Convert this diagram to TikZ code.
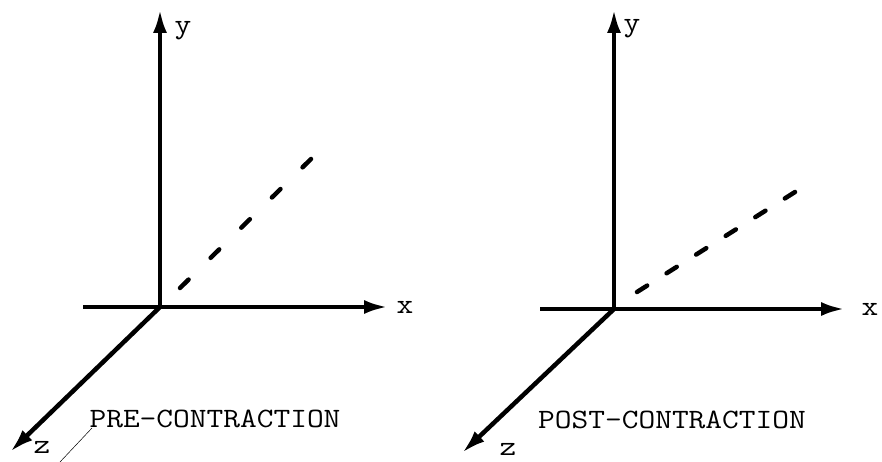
\documentclass[tikz,border=0pt]{standalone}
\usepackage{fontspec}
\usetikzlibrary{arrows.meta}
\newcommand{\wide}[1]{\scalebox{1.16}[1]{#1}}
\begin{document}
\begin{tikzpicture}[x=1pt,y=-1pt,
  axis/.style={line width=4.5pt,-{Latex[length=24pt,width=14pt]}},
  guide/.style={line width=4.5pt,line cap=round},
  lbl/.style={inner sep=0pt,font=\ttfamily\fontsize{28}{30}\selectfont},
  caption/.style={inner sep=0pt,anchor=base,font=\ttfamily\fontsize{28}{30}\selectfont}]
\useasboundingbox (0,0) rectangle (882,462);
% ---------- left diagram ----------
\coordinate (o1) at (160,307);
\coordinate (y1) at (160,9);
\coordinate (xs1) at (83,307);
\coordinate (x1) at (388,307);
\coordinate (z1) at (10,452);
\coordinate (d1a) at (180,288);
\coordinate (d1b) at (311,159);
\draw[axis] (o1) -- (y1);
\draw[axis] (xs1) -- (x1);
\draw[axis] (o1) -- (z1);
\draw[guide,dash pattern=on 12pt off 31pt] (d1a) -- (d1b);
\node[lbl] (ly1) at (183,31) {\wide{y}};
\node[lbl] (lx1) at (405,307) {\wide{x}};
\node[lbl] (lz1) at (42,447) {\wide{z}};
\node[caption] (cap1) at (215,427) {\wide{PRE-CONTRACTION}};
\coordinate (t1) at (60,462);
\draw[line width=0.5pt] (92,428) -- (t1);
% ---------- right diagram ----------
\coordinate (o2) at (614,309);
\coordinate (y2) at (614,9);
\coordinate (xs2) at (540,309);
\coordinate (x2) at (845,309);
\coordinate (z2) at (462,453);
\coordinate (d2a) at (637,292);
\coordinate (d2b) at (795,192);
\draw[axis] (o2) -- (y2);
\draw[axis] (xs2) -- (x2);
\draw[axis] (o2) -- (z2);
\draw[guide,dash pattern=on 12pt off 23pt] (d2a) -- (d2b);
\node[lbl] (ly2) at (632,29) {\wide{y}};
\node[lbl] (lx2) at (870,309) {\wide{x}};
\node[lbl] (lz2) at (508,449) {\wide{z}};
\node[caption] (cap2) at (672,428) {\wide{POST-CONTRACTION}};
\end{tikzpicture}
\end{document}
